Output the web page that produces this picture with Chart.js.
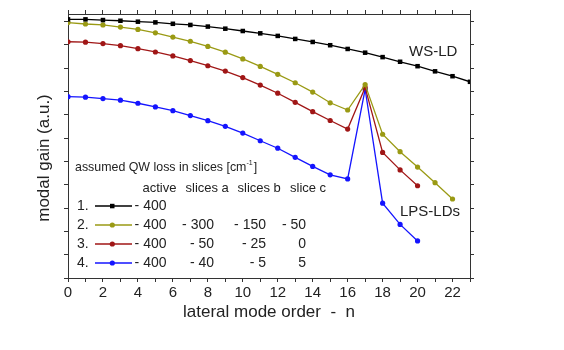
<!DOCTYPE html>
<html>
<head>
  <title>Modal gain vs lateral mode order</title>
  <script src="https://cdn.jsdelivr.net/npm/chart.js"></script>
  <style>
    body { margin: 0; background: #fff; }
    #wrap { width: 564px; height: 350px; }
  </style>
</head>
<body>
  <div id="wrap"><canvas id="gain-chart" width="564" height="350"></canvas></div>
  <script>
    // lateral mode order n
    const modes = [0, 1, 2, 3, 4, 5, 6, 7, 8, 9, 10, 11, 12, 13, 14, 15, 16, 17, 18, 19, 20, 21, 22, 23];
    // modal gain (a.u.)
    const wsLd = [11.10, 11.10, 11.07, 11.04, 11.00, 10.97, 10.91, 10.86, 10.79, 10.70, 10.60, 10.50,
                  10.39, 10.26, 10.13, 9.99, 9.83, 9.67, 9.48, 9.28, 9.09, 8.87, 8.66, 8.42];
    const lps2 = [10.96, 10.90, 10.86, 10.77, 10.67, 10.52, 10.34, 10.16, 9.94, 9.69, 9.40, 9.08,
                  8.74, 8.38, 7.98, 7.52, 7.21, 8.30, 6.17, 5.42, 4.76, 4.09, 3.39];
    const lps3 = [10.14, 10.12, 10.06, 9.97, 9.84, 9.70, 9.53, 9.33, 9.11, 8.88, 8.60, 8.28,
                  7.93, 7.54, 7.14, 6.76, 6.39, 8.18, 5.39, 4.64, 3.96];
    const lps4 = [7.78, 7.76, 7.70, 7.63, 7.50, 7.34, 7.18, 6.97, 6.75, 6.51, 6.22, 5.89,
                  5.57, 5.18, 4.79, 4.43, 4.25, 8.10, 3.21, 2.30, 1.59];

    // legend table
    const lossHeader = ['active', 'slices a', 'slices b', 'slice c'];
    const lossRows = [
      ['- 400'],
      ['- 400', '- 300', '- 150', '- 50'],
      ['- 400', '- 50', '- 25', '0'],
      ['- 400', '- 40', '- 5', '5']
    ];

    const FONT = 'Arial, "Liberation Sans", sans-serif';
    const toPts = arr => arr.map((v, i) => ({ x: modes[i], y: v }));

    const series = [
      { data: wsLd, color: '#000000', style: 'rect', r: 3.2 },
      { data: lps2, color: '#9a9a14', style: 'circle', r: 2.6 },
      { data: lps3, color: '#a01616', style: 'circle', r: 2.6 },
      { data: lps4, color: '#1414ff', style: 'circle', r: 2.6 }
    ];

    // texts drawn inside the plot: curve labels and the loss table
    const annotations = {
      id: 'annotations',
      afterDraw(chart) {
        const ctx = chart.ctx;
        ctx.save();
        ctx.fillStyle = '#222';
        ctx.textBaseline = 'middle';

        // y title
        ctx.save();
        ctx.translate(44.5, 158);
        ctx.rotate(-Math.PI / 2);
        ctx.textAlign = 'center';
        ctx.font = '17px ' + FONT;
        ctx.fillText('modal gain (a.u.)', 0, 0);
        ctx.restore();

        ctx.font = '15px ' + FONT;
        ctx.textAlign = 'left';
        ctx.fillText('WS-LD', 409, 52);
        ctx.fillText('LPS-LDs', 400, 212);

        ctx.font = '12.4px ' + FONT;
        const head = 'assumed QW loss in slices [cm';
        ctx.fillText(head, 75, 168);
        let w = ctx.measureText(head).width;
        ctx.font = '7px ' + FONT;
        ctx.fillText('-1', 75 + w, 163);
        const w2 = ctx.measureText('-1').width;
        ctx.font = '12.4px ' + FONT;
        ctx.fillText(']', 75 + w + w2 + 1, 168);

        ctx.font = '13px ' + FONT;
        const headX = [142.5, 185.5, 237.5, 290];
        lossHeader.forEach((t, i) => ctx.fillText(t, headX[i], 188));

        const rowY = [206, 225, 244, 263];
        const colEnd = [166.5, 214, 266, 306];
        ctx.font = '14px ' + FONT;
        lossRows.forEach((row, r) => {
          const y = rowY[r];
          ctx.textAlign = 'left';
          ctx.fillStyle = '#222';
          ctx.fillText((r + 1) + '.', 77, y);
          ctx.textAlign = 'right';
          row.forEach((t, c) => ctx.fillText(t, colEnd[c], y));
          const s = series[r];
          ctx.strokeStyle = s.color;
          ctx.lineWidth = 1.5;
          ctx.beginPath();
          ctx.moveTo(95, y);
          ctx.lineTo(132, y);
          ctx.stroke();
          ctx.fillStyle = s.color;
          if (s.style === 'rect') {
            ctx.fillRect(110, y - 2.2, 4.5, 4.5);
          } else {
            ctx.beginPath();
            ctx.arc(112.3, y, 2.6, 0, Math.PI * 2);
            ctx.fill();
          }
        });
        ctx.restore();
      }
    };

    const tickGrid = { display: true, drawOnChartArea: false, drawTicks: true, tickLength: 4, color: '#333', lineWidth: 1 };
    const axisBorder = { display: true, color: '#333', width: 1 };

    new Chart(document.getElementById('gain-chart'), {
      type: 'line',
      data: {
        datasets: series.map(s => ({
          data: toPts(s.data),
          borderColor: s.color,
          backgroundColor: s.color,
          borderWidth: 1.3,
          pointStyle: s.style,
          pointRadius: s.r,
          pointBorderWidth: 0,
          tension: 0,
          fill: false
        }))
      },
      options: {
        responsive: false,
        animation: false,
        layout: { padding: 0 },
        plugins: { legend: { display: false }, tooltip: { enabled: false } },
        scales: {
          x: {
            type: 'linear', position: 'bottom', min: 0, max: 23,
            afterFit: s => { s.height = 72; },
            grid: tickGrid, border: axisBorder,
            ticks: {
              stepSize: 1, autoSkip: false, maxRotation: 0, padding: 2, includeBounds: false,
              color: '#222', font: { family: FONT, size: 15 },
              callback: v => (v % 2 === 0 ? String(v) : '')
            },
            title: { display: true, text: 'lateral mode order  -  n', color: '#222',
                     font: { family: FONT, size: 17 }, padding: { top: 0, bottom: 27 } }
          },
          xTop: {
            type: 'linear', position: 'top', min: 0, max: 23,
            afterFit: s => { s.height = 14; },
            grid: tickGrid, border: axisBorder,
            ticks: { stepSize: 1, display: false, includeBounds: false }
          },
          y: {
            type: 'linear', position: 'left', min: 0, max: 11.33,
            afterFit: s => { s.width = 68; },
            grid: tickGrid, border: axisBorder,
            ticks: { stepSize: 1, display: false, includeBounds: false }
          },
          yRight: {
            type: 'linear', position: 'right', min: 0, max: 11.33,
            afterFit: s => { s.width = 94; },
            grid: tickGrid, border: axisBorder,
            ticks: { stepSize: 1, display: false, includeBounds: false }
          }
        }
      },
      plugins: [annotations]
    });
  </script>
</body>
</html>
